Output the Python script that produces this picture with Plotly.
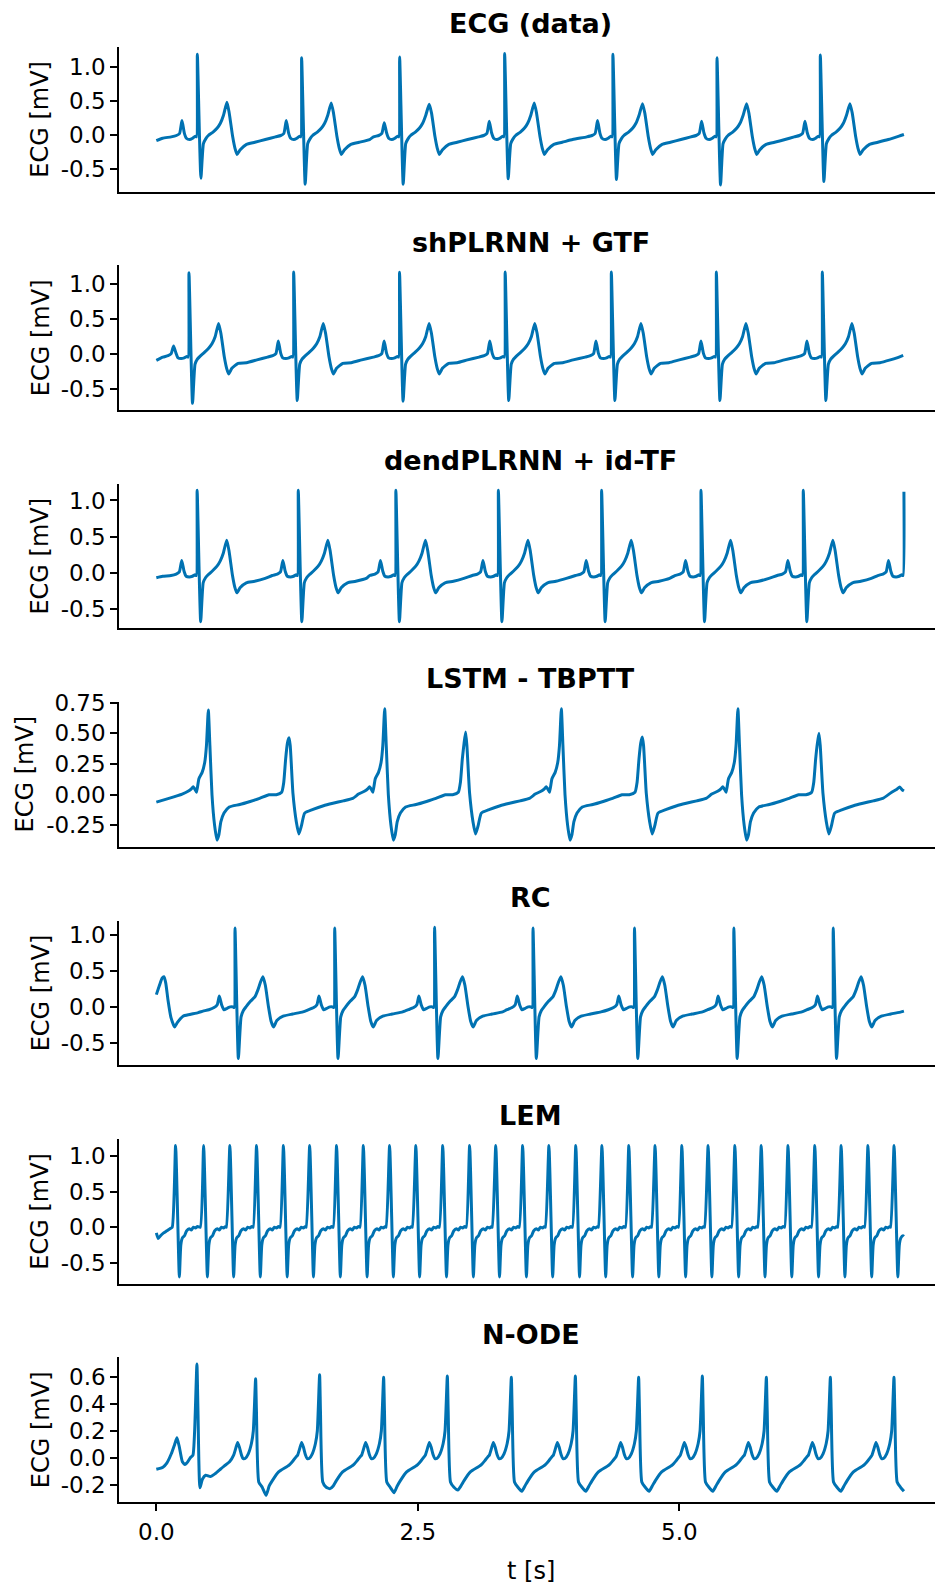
import plotly.graph_objects as go

T_END = 7.147
LINE_COLOR = "#0072B2"
FONT = "DejaVu Sans"

# ---------------- Panel 1: ECG (data) ----------------
ecg_beat_dt = [-0.25, -0.20, -0.17, -0.147, -0.125, -0.105, -0.075, -0.045, -0.02, -0.008, 0.0,
               0.034, 0.058, 0.08, 0.105, 0.15, 0.19, 0.22, 0.25, 0.283, 0.305, 0.338, 0.36, 0.38,
               0.41, 0.47, 0.55, 0.65]
ecg_beat_v = [-0.03, -0.01, 0.02, 0.20, 0.03, -0.05, -0.07, -0.05, -0.02, -0.03, 1.19,
              -0.66, -0.13, -0.06, -0.01, 0.04, 0.10, 0.17, 0.29, 0.47, 0.32, -0.03, -0.20, -0.29,
              -0.22, -0.14, -0.11, -0.07]
ecg_r_times = [0.392, 1.389, 2.326, 3.33, 4.365, 5.36, 6.348]
ecg_r_peak = [1.19, 1.14, 1.15, 1.20, 1.19, 1.14, 1.18]
ecg_s_trough = [-0.64, -0.73, -0.73, -0.65, -0.66, -0.74, -0.69]
ecg_p_peak = [0.21, 0.21, 0.18, 0.20, 0.21, 0.20, 0.20]
ecg_t_peak = [0.48, 0.47, 0.45, 0.47, 0.46, 0.46, 0.46]
ecg_head_t = [0.0, 0.06]
ecg_head_v = [-0.085, -0.05]
ecg_tail_t = [7.10, 7.147]
ecg_tail_v = [-0.02, 0.005]

# ---------------- Panel 2: shPLRNN + GTF ----------------
sh_beat_v = [-0.04, -0.02, 0.01, 0.19, 0.02, -0.05, -0.06, -0.05, -0.03, -0.04, 1.17,
             -0.66, -0.14, -0.07, -0.03, 0.03, 0.09, 0.15, 0.25, 0.44, 0.30, -0.04, -0.20, -0.28,
             -0.20, -0.13, -0.12, -0.08]
sh_r_times = [0.312, 1.313, 2.325, 3.335, 4.35, 5.354, 6.367]
sh_r_peak = [1.165, 1.175, 1.17, 1.175, 1.175, 1.175, 1.175]
sh_s_trough = [-0.70, -0.66, -0.67, -0.66, -0.66, -0.66, -0.66]
sh_p_peak = [0.12, 0.19, 0.19, 0.19, 0.19, 0.19, 0.19]
sh_t_peak = [0.44, 0.44, 0.44, 0.44, 0.44, 0.44, 0.44]
sh_head_t = [0.0]
sh_head_v = [-0.086]
sh_tail_t = [7.08, 7.14]
sh_tail_v = [-0.05, -0.015]

# ---------------- Panel 3: dendPLRNN + id-TF ----------------
dend_beat_v = [-0.04, -0.02, 0.01, 0.17, 0.02, -0.05, -0.06, -0.05, -0.03, -0.04, 1.14,
               -0.68, -0.14, -0.07, -0.03, 0.03, 0.09, 0.16, 0.27, 0.45, 0.30, -0.04, -0.20, -0.28,
               -0.21, -0.14, -0.12, -0.08]
dend_r_times = [0.39, 1.357, 2.29, 3.27, 4.257, 5.207, 6.185, 7.147]
dend_r_peak = [1.14, 1.14, 1.14, 1.14, 1.14, 1.14, 1.14, 1.12]
dend_s_trough = [-0.68, -0.68, -0.68, -0.68, -0.68, -0.68, -0.68, -0.68]
dend_p_peak = [0.17, 0.17, 0.17, 0.17, 0.17, 0.17, 0.17, 0.17]
dend_t_peak = [0.45, 0.45, 0.45, 0.45, 0.45, 0.45, 0.45, 0.45]
dend_head_t = [0.0, 0.06]
dend_head_v = [-0.07, -0.05]
dend_tail_t = []
dend_tail_v = []

# ---------------- Panel 4: LSTM - TBPTT ----------------
lstm_a_dt = [-0.25, -0.19, -0.16, -0.145, -0.125, -0.113, -0.09, -0.06, -0.035, -0.018, 0.0,
             0.015, 0.035, 0.06, 0.083, 0.10, 0.12, 0.15, 0.20, 0.30, 0.40, 0.49, 0.58, 0.65]
lstm_a_v = [0.005, 0.03, 0.05, 0.065, 0.04, 0.02, 0.13, 0.18, 0.26, 0.40, 0.70,
            0.40, 0.0, -0.25, -0.37, -0.33, -0.22, -0.15, -0.10, -0.08, -0.055, -0.03, 0.0, 0.0]
lstm_a_times = [0.497, 2.183, 3.872, 5.56]
lstm_a_peak = [0.69, 0.70, 0.70, 0.70]
lstm_b_dt = [-0.07, -0.05, -0.032, -0.015, 0.0, 0.012, 0.038, 0.07, 0.095, 0.12, 0.15,
             0.23, 0.33, 0.42, 0.52, 0.61]
lstm_b_v = [0.02, 0.10, 0.29, 0.42, 0.47, 0.40, 0.01, -0.22, -0.32, -0.25, -0.15,
            -0.12, -0.09, -0.07, -0.05, -0.03]
lstm_b_times = [1.268, 2.957, 4.646, 6.335]
lstm_b_peak = [0.463, 0.51, 0.47, 0.50]
lstm_head_t = [0.0, 0.12]
lstm_head_v = [-0.06, -0.03]
lstm_tail_t = [7.03, 7.08, 7.107, 7.13, 7.147]
lstm_tail_v = [0.02, 0.045, 0.063, 0.04, 0.03]

# ---------------- Panel 5: RC ----------------
rc_beat_dt = [-0.25, -0.20, -0.17, -0.15, -0.128, -0.105, -0.075, -0.045, -0.02, -0.008, 0.0,
              0.032, 0.058, 0.08, 0.105, 0.15, 0.19, 0.22, 0.245, 0.267, 0.29, 0.32, 0.345, 0.369,
              0.40, 0.46, 0.55, 0.65]
rc_beat_v = [-0.04, -0.01, 0.03, 0.15, 0.03, -0.04, -0.02, 0.0, 0.0, -0.01, 1.10,
             -0.72, -0.14, -0.05, 0.0, 0.08, 0.14, 0.24, 0.35, 0.42, 0.30, 0.0, -0.20, -0.28,
             -0.19, -0.13, -0.10, -0.07]
rc_r_times = [0.752, 1.705, 2.66, 3.601, 4.571, 5.521, 6.471]
rc_r_peak = [1.10, 1.10, 1.11, 1.10, 1.10, 1.10, 1.10]
rc_s_trough = [-0.72, -0.72, -0.72, -0.72, -0.72, -0.72, -0.72]
rc_head_t = [0.0, 0.03, 0.055, 0.073, 0.09, 0.111, 0.14, 0.175, 0.20, 0.255, 0.319, 0.40, 0.446]
rc_head_v = [0.17, 0.30, 0.40, 0.42, 0.33, 0.10, -0.15, -0.28, -0.22, -0.13, -0.107, -0.08, -0.06]
rc_tail_t = [7.147]
rc_tail_v = [-0.06]

# ---------------- Panel 6: LEM ----------------
lem_beat_dt = [-0.032, 0.0, 0.036, 0.05, 0.065, 0.085, 0.105, 0.13, 0.15, 0.17, 0.19, 0.21]
lem_beat_v = [0.0, 1.15, -0.70, -0.25, -0.15, -0.12, -0.05, -0.02, -0.04, 0.0, -0.01, 0.01]
lem_r_times = [0.184, 0.452, 0.703, 0.958, 1.215, 1.466, 1.723, 1.979, 2.23, 2.481, 2.738,
               2.995, 3.245, 3.502, 3.753, 4.01, 4.26, 4.517, 4.768, 5.024, 5.275, 5.531,
               5.783, 6.039, 6.295, 6.547, 6.803, 7.053]
lem_head_t = [0.0, 0.018, 0.04, 0.07, 0.10, 0.13]
lem_head_v = [-0.08, -0.16, -0.12, -0.08, -0.05, -0.02]
lem_tail_t = [7.147]
lem_tail_v = [-0.13]

# ---------------- Panel 7: N-ODE ----------------
node_beat_dt = [-0.21, -0.19, -0.172, -0.155, -0.135, -0.12, -0.10, -0.07, -0.04, -0.022, 0.0,
                0.008, 0.03, 0.063, 0.10, 0.13, 0.16, 0.22, 0.32, 0.36, 0.39]
node_beat_v = [0.02, 0.07, 0.115, 0.08, 0.02, -0.005, -0.005, 0.03, 0.107, 0.2, 0.60,
               0.35, -0.18, -0.22, -0.25, -0.21, -0.17, -0.105, -0.055, -0.02, 0.01]
node_r_times = [0.949, 1.561, 2.173, 2.782, 3.394, 4.006, 4.611, 5.22, 5.832, 6.444, 7.052]
node_r_peak = [0.59, 0.62, 0.60, 0.61, 0.60, 0.61, 0.60, 0.61, 0.60, 0.60, 0.60]
node_trough = [-0.28, -0.23, -0.26, -0.24, -0.25, -0.25, -0.25, -0.25, -0.25, -0.25, -0.25]
node_head_t = [0.0, 0.063, 0.10, 0.143, 0.175, 0.197, 0.22, 0.249, 0.274, 0.30, 0.325, 0.35,
               0.366, 0.388, 0.398, 0.417, 0.44, 0.471, 0.516, 0.56, 0.605, 0.65, 0.70]
node_head_v = [-0.085, -0.07, -0.04, 0.03, 0.10, 0.149, 0.08, -0.03, -0.05, -0.03, 0.0, 0.02,
               0.2, 0.70, 0.35, -0.224, -0.16, -0.13, -0.14, -0.12, -0.09, -0.06, -0.03]
node_tail_t = [7.147]
node_tail_v = [-0.25]

TITLES = ["ECG (data)", "shPLRNN + GTF", "dendPLRNN + id-TF", "LSTM - TBPTT", "RC", "LEM", "N-ODE"]


def place_beats(r_times, dt, v, overrides):
    """overrides: dict template-index -> list of per-beat values"""
    pts = []
    for k, tr in enumerate(r_times):
        vals = list(v)
        for idx, lst in overrides.items():
            vals[idx] = lst[k]
        for d, val in zip(dt, vals):
            pts.append((tr + d, val))
    return pts


def assemble(head_t, head_v, beat_pts, tail_t, tail_v):
    pts = list(zip(head_t, head_v)) + sorted(beat_pts)
    pts = [p for p in pts if 0.0 <= p[0] <= T_END]
    pts += list(zip(tail_t, tail_v))
    pts.sort()
    return [p[0] for p in pts], [p[1] for p in pts]


def ecg_like(dt, v, r_times, r_pk, s_tr, p_pk, t_pk):
    ov = {dt.index(0.0): r_pk, dt.index(0.034): s_tr, dt.index(-0.147): p_pk, dt.index(0.283): t_pk}
    return place_beats(r_times, dt, v, ov)


series = []
series.append(assemble(ecg_head_t, ecg_head_v,
                       ecg_like(ecg_beat_dt, ecg_beat_v, ecg_r_times, ecg_r_peak, ecg_s_trough, ecg_p_peak, ecg_t_peak),
                       ecg_tail_t, ecg_tail_v))
series.append(assemble(sh_head_t, sh_head_v,
                       ecg_like(ecg_beat_dt, sh_beat_v, sh_r_times, sh_r_peak, sh_s_trough, sh_p_peak, sh_t_peak),
                       sh_tail_t, sh_tail_v))
series.append(assemble(dend_head_t, dend_head_v,
                       ecg_like(ecg_beat_dt, dend_beat_v, dend_r_times, dend_r_peak, dend_s_trough, dend_p_peak, dend_t_peak),
                       dend_tail_t, dend_tail_v))
lstm_pts = place_beats(lstm_a_times, lstm_a_dt, lstm_a_v, {lstm_a_dt.index(0.0): lstm_a_peak}) + \
    place_beats(lstm_b_times, lstm_b_dt, lstm_b_v, {lstm_b_dt.index(0.0): lstm_b_peak})
series.append(assemble(lstm_head_t, lstm_head_v, lstm_pts, lstm_tail_t, lstm_tail_v))
rc_pts = place_beats(rc_r_times, rc_beat_dt, rc_beat_v,
                     {rc_beat_dt.index(0.0): rc_r_peak, rc_beat_dt.index(0.032): rc_s_trough})
series.append(assemble(rc_head_t, rc_head_v, rc_pts, rc_tail_t, rc_tail_v))
series.append(assemble(lem_head_t, lem_head_v, place_beats(lem_r_times, lem_beat_dt, lem_beat_v, {}),
                       lem_tail_t, lem_tail_v))
node_pts = place_beats(node_r_times, node_beat_dt, node_beat_v,
                       {node_beat_dt.index(0.0): node_r_peak, node_beat_dt.index(0.10): node_trough})
series.append(assemble(node_head_t, node_head_v, node_pts, node_tail_t, node_tail_v))

YTICKS = [
    ([-0.5, 0.0, 0.5, 1.0], ["-0.5", "0.0", "0.5", "1.0"]),
    ([-0.5, 0.0, 0.5, 1.0], ["-0.5", "0.0", "0.5", "1.0"]),
    ([-0.5, 0.0, 0.5, 1.0], ["-0.5", "0.0", "0.5", "1.0"]),
    ([-0.25, 0.0, 0.25, 0.5, 0.75], ["-0.25", "0.00", "0.25", "0.50", "0.75"]),
    ([-0.5, 0.0, 0.5, 1.0], ["-0.5", "0.0", "0.5", "1.0"]),
    ([-0.5, 0.0, 0.5, 1.0], ["-0.5", "0.0", "0.5", "1.0"]),
    ([-0.2, 0.0, 0.2, 0.4, 0.6], ["-0.2", "0.0", "0.2", "0.4", "0.6"]),
]
YLABEL_X = [40.5, 40.5, 40.5, 25.0, 40.5, 40.5, 40.5]

# ---------------- layout geometry (pixels) ----------------
W, H = 935, 1590
ML, MR, MT, MB = 119, 0, 47, 88
PW, PH = W - ML - MR, H - MT - MB
PANEL_H, PITCH = 144.5, 218.4
XRANGE = [-0.357, -0.357 + PW / 104.6]


def py(ypx):
    return min(1.0, max(0.0, (H - MB - ypx) / PH))


def pya(ypx):
    return (H - MB - ypx) / PH


def px(xpx):
    return (xpx - ML) / PW


fig = go.Figure()
annotations = []
for i, (xs, ys) in enumerate(series):
    n = "" if i == 0 else str(i + 1)
    top = MT + i * PITCH
    bot = top + PANEL_H
    fig.add_trace(go.Scatter(x=xs, y=ys, mode="lines",
                             line=dict(color=LINE_COLOR, width=3, shape="spline", smoothing=0.5),
                             xaxis="x" + n, yaxis="y" + n, showlegend=False, hoverinfo="skip"))
    lo, hi = min(ys), max(ys)
    pad = 0.05 * (hi - lo)
    last = i == len(series) - 1
    fig.layout["xaxis" + n] = dict(
        domain=[0, 1], anchor="y" + n, range=XRANGE, showgrid=False, zeroline=False,
        automargin=False, showline=True, linecolor="black", linewidth=1.5,
        ticks="outside" if last else "", ticklen=7, tickwidth=1.5, tickcolor="black",
        showticklabels=last, tickvals=[0.0, 2.5, 5.0], ticktext=["0.0", "2.5", "5.0"],
        tickfont=dict(family=FONT, size=23, color="black"), ticklabelstandoff=2,
    )
    fig.layout["yaxis" + n] = dict(
        domain=[py(bot), py(top)], anchor="x" + n, range=[lo - pad, hi + pad],
        showgrid=False, zeroline=False, automargin=False,
        showline=True, linecolor="black", linewidth=1.5,
        ticks="outside", ticklen=7, tickwidth=1.5, tickcolor="black",
        tickvals=YTICKS[i][0], ticktext=YTICKS[i][1],
        tickfont=dict(family=FONT, size=23, color="black"), ticklabelstandoff=0,
    )
    annotations.append(dict(text="<b>" + TITLES[i] + "</b>", x=px(530.5), y=pya(top - 23.3),
                            xref="paper", yref="paper", xanchor="center", yanchor="middle",
                            showarrow=False, font=dict(family=FONT, size=27, color="black")))
    annotations.append(dict(text="ECG [mV]", x=px(YLABEL_X[i]), y=pya((top + bot) / 2),
                            xref="paper", yref="paper", xanchor="center", yanchor="middle",
                            textangle=-90, showarrow=False, font=dict(family=FONT, size=24, color="black")))

annotations.append(dict(text="t [s]", x=px(530.5), y=pya(1571), xref="paper", yref="paper",
                        xanchor="center", yanchor="middle", showarrow=False,
                        font=dict(family=FONT, size=24, color="black")))

fig.update_layout(width=W, height=H, margin=dict(l=ML, r=MR, t=MT, b=MB, autoexpand=False),
                  paper_bgcolor="white", plot_bgcolor="white", annotations=annotations,
                  showlegend=False)
fig.write_html("out.html", config={"displayModeBar": False},
               post_script="document.body.style.margin='0px';document.body.style.overflow='hidden';")
